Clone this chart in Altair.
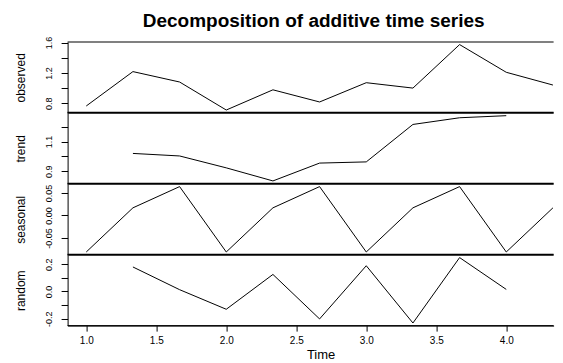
import altair as alt
import pandas as pd

# ---- data ----
time = [1.0, 1.333333, 1.666667, 2.0, 2.333333, 2.666667, 3.0, 3.333333, 3.666667, 4.0, 4.333333]
observed = [0.764, 1.217, 1.080, 0.711, 0.977, 0.817, 1.071, 1.000, 1.573, 1.208, 1.040]
trend = [None, 1.020, 1.003, 0.923, 0.835, 0.955, 0.963, 1.215, 1.260, 1.274, None]
seasonal = [-0.0812, 0.0170, 0.0642, -0.0812, 0.0170, 0.0642, -0.0812, 0.0170, 0.0642, -0.0812, 0.0170]
random = [None, 0.180, 0.013, -0.131, 0.125, -0.202, 0.189, -0.232, 0.249, 0.015, None]

x_ticks = [1.0, 1.5, 2.0, 2.5, 3.0, 3.5, 4.0]

panels = [
    # name, values, y-domain, tick positions, labelled ticks, format
    ("observed", observed, [0.677, 1.607], [0.8, 1.0, 1.2, 1.4, 1.6], ["0.8", "1.2", "1.6"], ".1f"),
    ("trend", trend, [0.817, 1.292], [0.9, 1.0, 1.1, 1.2], ["0.9", "1.1"], ".1f"),
    ("seasonal", seasonal, [-0.087, 0.070], [-0.05, 0.0, 0.05], ["-0.05", "0.00", "0.05"], ".2f"),
    ("random", random, [-0.251, 0.268], [-0.2, -0.1, 0.0, 0.1, 0.2], ["-0.2", "0.0", "0.2"], ".1f"),
]

df = pd.DataFrame({"time": time, "observed": observed, "trend": trend,
                   "seasonal": seasonal, "random": random})

FONT = "Liberation Sans"
W = 486
H = 70.6
XDOM = [0.8667, 4.3381]


def make_panel(idx, name, values, ydom, ticks, labelled, fmt, show_x):
    lab_list = "[" + ",".join("'" + s + "'" for s in labelled) + "]"
    fstr = "replace(format(datum.value, '" + fmt + "'), '\u2212', '-')"
    label_expr = "indexof(" + lab_list + ", " + fstr + ") >= 0 ? " + fstr + " : ''"
    yaxis = alt.Axis(
        title=name, values=ticks, labelExpr=label_expr, grid=False,
        domain=True, domainColor="black", tickColor="black", tickSize=6.5,
        labelAngle=270, labelAlign="center", labelBaseline="bottom",
        labelPadding=7.5, labelFontSize=9, labelFont=FONT, labelColor="black",
        labelOverlap=False, labelFlush=False,
        titleFont=FONT, titleFontSize=12, titleFontWeight="normal",
        titleColor="black", titlePadding=16.6,
    )
    if show_x:
        xaxis = alt.Axis(
            title="Time", values=x_ticks, format=".1f", grid=False,
            domain=True, domainColor="black", tickColor="black", tickSize=5.5,
            labelPadding=4, labelFontSize=10, labelFont=FONT, labelColor="black",
            labelFlush=False, labelOverlap=False,
            titleFont=FONT, titleFontSize=13, titleFontWeight="normal",
            titleColor="black", titlePadding=3, titleX=253, titleAlign="center",
        )
    else:
        xaxis = None
    line = alt.Chart(df).mark_line(color="black", strokeWidth=1, clip=True).encode(
        x=alt.X("time:Q", scale=alt.Scale(domain=XDOM, nice=False, zero=False), axis=xaxis),
        y=alt.Y(name + ":Q", scale=alt.Scale(domain=ydom, nice=False, zero=False), axis=yaxis),
    )
    blank = alt.Data(values=[{"k": 0}])
    top = alt.Chart(blank).mark_rule(color="black", strokeWidth=1).encode(
        x=alt.value(0), x2=alt.value(W), y=alt.value(0))
    bottom = alt.Chart(blank).mark_rule(
        color="black", strokeWidth=1 if show_x else 1.6).encode(
        x=alt.value(0), x2=alt.value(W), y=alt.value(H))
    return alt.layer(line, top, bottom).properties(width=W, height=H)


charts = [make_panel(i, n, v, d, t, l, f, i == len(panels) - 1)
          for i, (n, v, d, t, l, f) in enumerate(panels)]

chart = alt.vconcat(*charts, spacing=0, bounds="flush").properties(
    title=alt.TitleParams(
        "Decomposition of additive time series", font=FONT, fontSize=19,
        fontWeight="bold", color="black", anchor="middle", offset=5.7, dx=29,
    ),
    padding={"left": 6.6, "top": 3, "right": 0, "bottom": 0},
    background="white",
).configure_view(stroke=None)

chart.save("out.html", embed_options={"renderer": "svg", "actions": False})
